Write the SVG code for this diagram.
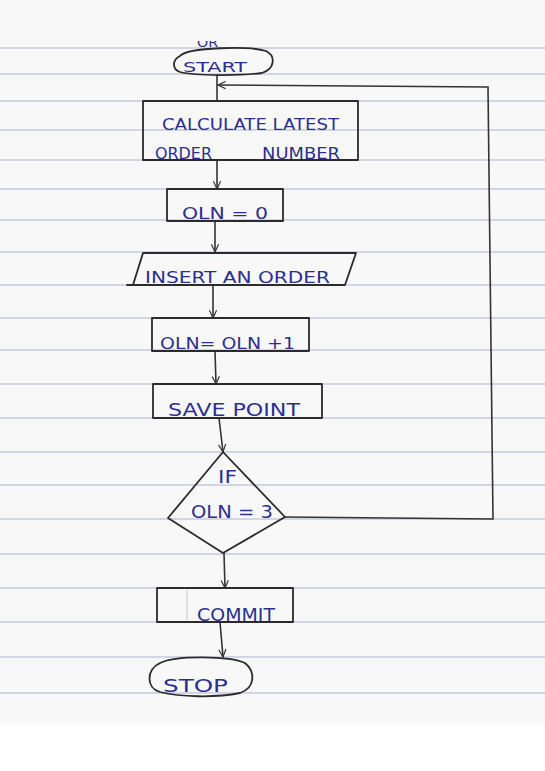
<svg xmlns="http://www.w3.org/2000/svg" width="545" height="771" viewBox="0 0 545 771">
  <style>
    .ruled { stroke: #aeb2d2; stroke-width: 1.1; }
    .shape { fill: none; stroke: #2b2b2b; stroke-width: 1.8; stroke-linejoin: round; stroke-linecap: round; }
    .conn { fill: none; stroke: #333333; stroke-width: 1.6; stroke-linecap: round; }
    .hand { font-family: "DejaVu Sans", "Liberation Sans", sans-serif; fill: #2d2f8e; }
  </style>
  <defs>
    <marker id="arrow" viewBox="0 0 10 10" refX="9.5" refY="5" markerWidth="9" markerHeight="9" orient="auto" markerUnits="userSpaceOnUse">
      <path d="M1,1 L9.5,5 L1,9" fill="none" stroke="#333333" stroke-width="1.3"/>
    </marker>
    <clipPath id="topclip"><rect x="0" y="41" width="545" height="10"/></clipPath>
  </defs>

  <!-- paper -->
  <rect x="0" y="0" width="545" height="771" fill="#ffffff"/>
  <rect x="0" y="0" width="545" height="724" fill="#f8f8f8"/>
  <g id="ruling">
    <line class="ruled" x1="0" y1="48" x2="545" y2="48"/>
    <line class="ruled" x1="0" y1="74" x2="545" y2="74"/>
    <line class="ruled" x1="0" y1="101" x2="545" y2="101"/>
    <line class="ruled" x1="0" y1="130" x2="545" y2="130"/>
    <line class="ruled" x1="0" y1="160" x2="545" y2="160"/>
    <line class="ruled" x1="0" y1="189" x2="545" y2="189"/>
    <line class="ruled" x1="0" y1="220" x2="545" y2="220"/>
    <line class="ruled" x1="0" y1="252" x2="545" y2="252"/>
    <line class="ruled" x1="0" y1="285" x2="545" y2="285"/>
    <line class="ruled" x1="0" y1="318" x2="545" y2="318"/>
    <line class="ruled" x1="0" y1="350" x2="545" y2="350"/>
    <line class="ruled" x1="0" y1="384" x2="545" y2="384"/>
    <line class="ruled" x1="0" y1="418" x2="545" y2="418"/>
    <line class="ruled" x1="0" y1="452" x2="545" y2="452"/>
    <line class="ruled" x1="0" y1="485" x2="545" y2="485"/>
    <line class="ruled" x1="0" y1="519" x2="545" y2="519"/>
    <line class="ruled" x1="0" y1="554" x2="545" y2="554"/>
    <line class="ruled" x1="0" y1="588" x2="545" y2="588"/>
    <line class="ruled" x1="0" y1="622" x2="545" y2="622"/>
    <line class="ruled" x1="0" y1="657" x2="545" y2="657"/>
    <line class="ruled" x1="0" y1="693" x2="545" y2="693"/>
  </g>

  <!-- cut-off text at top edge -->
  <text class="hand" x="197" y="47" font-size="13" textLength="21" lengthAdjust="spacingAndGlyphs" clip-path="url(#topclip)">OR</text>

  <g id="connectors">
    <line class="conn" x1="217" y1="75" x2="217" y2="101"/>
    <line class="conn" x1="217" y1="160" x2="217" y2="189" marker-end="url(#arrow)"/>
    <line class="conn" x1="215" y1="221" x2="215" y2="252" marker-end="url(#arrow)"/>
    <line class="conn" x1="213" y1="285" x2="213" y2="318" marker-end="url(#arrow)"/>
    <line class="conn" x1="215" y1="351" x2="216" y2="384" marker-end="url(#arrow)"/>
    <line class="conn" x1="219" y1="418" x2="223" y2="452" marker-end="url(#arrow)"/>
    <line class="conn" x1="224" y1="553" x2="225" y2="588" marker-end="url(#arrow)"/>
    <line class="conn" x1="220" y1="622" x2="223" y2="657" marker-end="url(#arrow)"/>
    <polyline class="conn" points="285,517 493,519 488,87 218,85" marker-end="url(#arrow)"/>
  </g>

  <g id="start">
    <path class="shape" d="M180,56 C188,47 250,46 266,51 C276,56 275,69 262,73 C240,76 196,76 180,72 C172,69 172,60 180,56 Z"/>
    <text class="hand" x="183" y="72" font-size="14" textLength="64" lengthAdjust="spacingAndGlyphs">START</text>
  </g>

  <g id="calc">
    <rect class="shape" x="143" y="101" width="215" height="59"/>
    <text class="hand" x="162" y="130" font-size="15" textLength="177" lengthAdjust="spacingAndGlyphs">CALCULATE LATEST</text>
    <text class="hand" x="155" y="159" font-size="15" textLength="57" lengthAdjust="spacingAndGlyphs">ORDER</text>
    <text class="hand" x="262" y="159" font-size="15" textLength="78" lengthAdjust="spacingAndGlyphs">NUMBER</text>
  </g>

  <g id="init">
    <rect class="shape" x="167" y="189" width="116" height="32"/>
    <text class="hand" x="182" y="219" font-size="15" textLength="86" lengthAdjust="spacingAndGlyphs">OLN = 0</text>
  </g>

  <g id="insert">
    <polygon class="shape" points="143,253 356,253 345,285 133,285"/>
    <line class="shape" x1="127" y1="285" x2="133" y2="285"/>
    <text class="hand" x="145" y="283" font-size="15" textLength="185" lengthAdjust="spacingAndGlyphs">INSERT AN ORDER</text>
  </g>

  <g id="increment">
    <rect class="shape" x="152" y="318" width="157" height="33"/>
    <text class="hand" x="160" y="349" font-size="15" textLength="135" lengthAdjust="spacingAndGlyphs">OLN= OLN +1</text>
  </g>

  <g id="savepoint">
    <rect class="shape" x="153" y="384" width="169" height="34"/>
    <text class="hand" x="168" y="416" font-size="17" textLength="132" lengthAdjust="spacingAndGlyphs">SAVE POINT</text>
  </g>

  <g id="decision">
    <polygon class="shape" points="223,452 285,517 223,553 168,518"/>
    <text class="hand" x="218" y="483" font-size="17" textLength="19" lengthAdjust="spacingAndGlyphs">IF</text>
    <text class="hand" x="191" y="518" font-size="17" textLength="82" lengthAdjust="spacingAndGlyphs">OLN = 3</text>
  </g>

  <g id="commit">
    <rect class="shape" x="157" y="588" width="136" height="34"/>
    <line x1="187" y1="590" x2="187" y2="620" stroke="#c8c8c8" stroke-width="1"/>
    <text class="hand" x="197" y="621" font-size="17" textLength="78" lengthAdjust="spacingAndGlyphs">COMMIT</text>
  </g>

  <g id="stop">
    <path class="shape" d="M160,663 C176,655 230,656 245,663 C256,672 255,688 240,693 C215,698 180,697 160,692 C146,688 146,670 160,663 Z"/>
    <text class="hand" x="163" y="692" font-size="18" textLength="65" lengthAdjust="spacingAndGlyphs">STOP</text>
  </g>
</svg>
